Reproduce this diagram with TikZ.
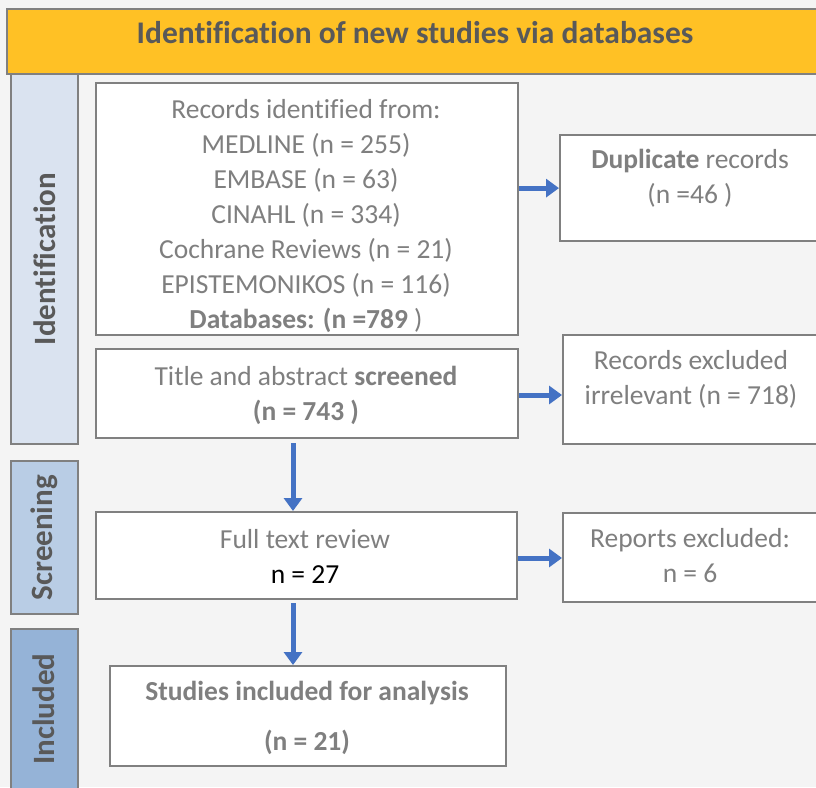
\documentclass[tikz,border=0pt]{standalone}
\usepackage{fontspec}
\setmainfont[Ligatures={NoCommon}]{Carlito}
\usetikzlibrary{arrows.meta}
\definecolor{pagebg}{HTML}{F4F4F4}
\definecolor{edge}{HTML}{808080}
\definecolor{txt}{HTML}{7F7F7F}
\definecolor{head}{HTML}{595959}
\definecolor{banner}{HTML}{FFC125}
\definecolor{phaseA}{HTML}{DAE3F0}
\definecolor{phaseB}{HTML}{B9CDE5}
\definecolor{phaseC}{HTML}{95B3D7}
\definecolor{flow}{HTML}{4472C4}
\tikzset{
  box/.style={draw=edge, line width=2.2pt, fill=white, anchor=north west, inner sep=0pt},
  phase/.style={draw=edge, line width=2.2pt, anchor=north west, inner sep=0pt},
  label22/.style={text=txt, font=\fontsize{27.5}{35}\selectfont, align=center},
  phasetext/.style={text=head, font=\fontsize{31}{34}\selectfont\bfseries, rotate=90},
  arr/.style={draw=flow, line width=5pt, -{Triangle[length=13pt,width=18pt]}}
}
\begin{document}
\begin{tikzpicture}[x=1pt,y=-1pt]
\useasboundingbox (0,0) rectangle (816,787);
\fill[pagebg] (0,0) rectangle (816,787);

% banner
\node[phase, fill=banner, minimum width=820pt, minimum height=65pt] (banner) at (6,8) {};
\node[text=head, font=\fontsize{31.5}{34}\selectfont\bfseries] (bannertxt) at (415,33) {Identification of new studies via databases};

% phase columns
\node[phase, fill=phaseA, minimum width=67pt, minimum height=370pt] (idph) at (10,73) {};
\node[phasetext] (idtxt) at (idph.center) {Identification};
\node[phase, fill=phaseB, minimum width=67pt, minimum height=153pt] (scph) at (10,460) {};
\node[phasetext] (sctxt) at (scph.center) {Screening};
\node[phase, fill=phaseC, minimum width=67pt, minimum height=165pt] (inph) at (10,628) {};
\node[phasetext] (intxt) at (43.5,709) {Included};

% main flow boxes
\node[box, minimum width=422pt, minimum height=252pt] (records) at (95,82) {};
\node[label22, anchor=north] (recordstxt) at (306,96) {Records identified from:\\MEDLINE (n = 255)\\EMBASE (n = 63)\\CINAHL (n = 334)\\Cochrane Reviews (n = 21)\\EPISTEMONIKOS (n = 116)\\\textbf{Databases: (n =789} )};

\node[box, minimum width=422pt, minimum height=89pt] (screened) at (95,348) {};
\node[label22] (screenedtxt) at (306,395) {Title and abstract \textbf{screened}\\\textbf{(n = 743 )}};

\node[box, minimum width=421pt, minimum height=87pt] (fulltext) at (95,511) {};
\node[label22] (fulltexttxt) at (305,556) {Full text review\\\textcolor{black}{n = 27}};

\node[box, minimum width=396pt, minimum height=100pt] (included) at (109,665) {};
\node[label22, font=\fontsize{27.5}{50}\selectfont\bfseries] (includedtxt) at (307,718) {Studies included for analysis\\(n = 21)};

% exclusion boxes
\node[box, minimum width=262pt, minimum height=106pt] (dup) at (559,134) {};
\node[label22] (duptxt) at (690,178) {\textbf{Duplicate} records\\(n =46 )};

\node[box, minimum width=260pt, minimum height=109pt] (irrel) at (562,334) {};
\node[label22] (irreltxt) at (691,379) {Records excluded\\irrelevant (n = 718)};

\node[box, minimum width=258pt, minimum height=89pt] (reports) at (562,512) {};
\node[label22] (reportstxt) at (690,556) {Reports excluded:\\n = 6};

% connectors
\draw[arr] (records.east |- dup.west) -- (dup.west);
\draw[arr] (screened.east |- 0,395) -- (irrel.west |- 0,395);
\draw[arr] (fulltext.east |- 0,558) -- (reports.west |- 0,558);
\draw[arr] (293,443) -- (fulltext.north -| 293,0);
\draw[arr] (293,603) -- (included.north -| 293,0);
\end{tikzpicture}
\end{document}
